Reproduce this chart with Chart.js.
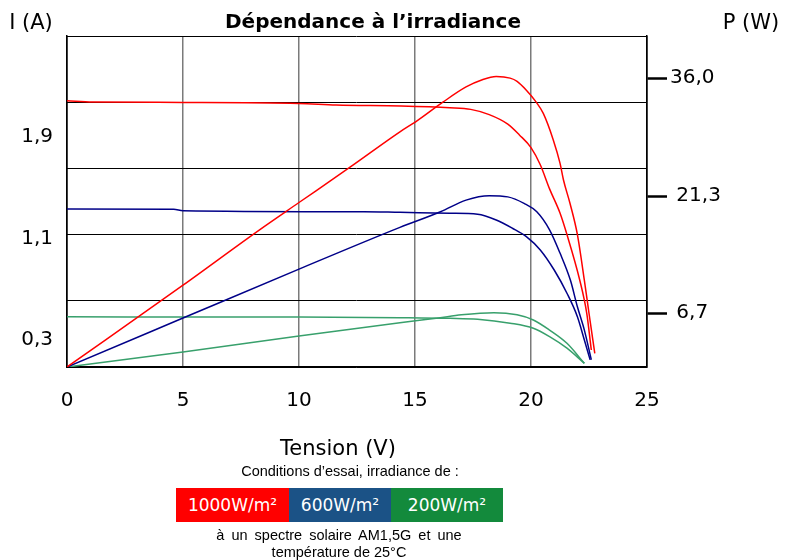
<!DOCTYPE html>
<html>
<head>
<meta charset="utf-8">
<script src="https://cdn.jsdelivr.net/npm/chart.js@4/dist/chart.umd.min.js"></script>
<style>
  body { margin: 0; background: #fff; }
  #wrap { position: relative; width: 790px; height: 560px; font-family: "DejaVu Sans", sans-serif; color: #000; }
  #chart { position: absolute; left: 0; top: 0; }
  .t { position: absolute; white-space: nowrap; line-height: 1; transform: translate(-50%, -50%); }
  .arial { font-family: "Liberation Sans", Arial, sans-serif; }
  .box { position: absolute; top: 488px; height: 34px; line-height: 34px; color: #fff; text-align: center; font-size: 17px; }
</style>
</head>
<body>
<div id="wrap">
  <canvas id="chart" width="790" height="560"></canvas>
  <div class="t" style="left:31px; top:22px; font-size:21px;">I (A)</div>
  <div class="t" style="left:373px; top:21px; font-size:20px; font-weight:bold;">Dépendance à l’irradiance</div>
  <div class="t" style="left:751px; top:22px; font-size:21px;">P (W)</div>
  <div class="t" style="left:338px; top:448px; font-size:21px;">Tension (V)</div>
  <div class="t arial" style="left:350px; top:471px; font-size:14.5px;">Conditions d’essai, irradiance de :</div>
  <div class="box" style="left:176px; width:113px; background:#ff0000;">1000W/m²</div>
  <div class="box" style="left:289px; width:102px; background:#1b5286;">600W/m²</div>
  <div class="box" style="left:391px; width:112px; background:#138a3c;">200W/m²</div>
  <div class="t arial" style="left:339px; top:535px; font-size:14.5px; word-spacing:3px;">à un spectre solaire AM1,5G et une</div>
  <div class="t arial" style="left:339px; top:552px; font-size:14.5px;">température de 25°C</div>
</div>
<script>
// tick labels
const xMin = 0, xMax = 25, xStep = 5;
const currentTicks = [0.3, 1.1, 1.9];
const powerTicks = [6.7, 21.3, 36.0];
const powerGrid = [0, 8.25, 16.5, 24.75, 33, 41.25];

// 1000 W/m2
const red_iv_v = [0, 1.1, 5, 10, 11.6, 14.4, 16.5, 17.4, 18.2, 19.0, 19.5, 20.0, 20.4, 20.8, 21.25, 21.55, 22.1, 22.4, 22.6];
const red_iv_i = [2.184, 2.174, 2.171, 2.163, 2.15, 2.143, 2.129, 2.116, 2.075, 2.0, 1.915, 1.815, 1.68, 1.49, 1.30, 1.13, 0.772, 0.513, 0.221];
const red_pv_v = [0, 5, 8.3, 10, 12.2, 14.35, 15.1, 16.2, 17.2, 17.9, 18.5, 19.1, 19.4, 19.8, 20.2, 20.53, 20.96, 21.25, 21.4, 21.68, 22.0, 22.3, 22.5, 22.75];
const red_pv_p = [0, 10.2, 17.1, 20.5, 24.9, 29.3, 30.7, 33.0, 34.9, 35.8, 36.2, 36.0, 35.6, 34.5, 33.1, 31.6, 28.3, 25.4, 23.3, 20.4, 16.5, 10.8, 6.7, 1.7];

// 600 W/m2
const blue_iv_v = [0, 4.6, 5, 12.8, 14.35, 16.5, 17.7, 18.5, 19.2, 19.8, 20.4, 21.0, 21.55, 22.0, 22.3, 22.55];
const blue_iv_i = [1.331, 1.33, 1.318, 1.31, 1.305, 1.298, 1.29, 1.245, 1.18, 1.114, 1.009, 0.851, 0.668, 0.483, 0.30, 0.143];
const blue_pv_v = [0, 5, 10, 14.35, 16.1, 17.2, 18.2, 19.0, 19.7, 20.25, 20.8, 21.25, 21.7, 22.0, 22.3, 22.6];
const blue_pv_p = [0, 6.1, 12.2, 17.4, 19.35, 20.8, 21.35, 21.2, 20.4, 19.35, 17.1, 14.2, 10.8, 7.5, 4.6, 0.9];

// 200 W/m2
const green_iv_v = [0, 5, 10, 14.35, 16.5, 17.7, 19.1, 20.1, 20.8, 21.55, 22.3];
const green_iv_i = [0.482, 0.481, 0.480, 0.475, 0.470, 0.463, 0.432, 0.392, 0.326, 0.235, 0.116];
const green_pv_v = [0, 5, 10, 14.35, 16, 17, 18.4, 19.4, 20.1, 20.8, 21.55, 22.3];
const green_pv_p = [0, 1.87, 3.86, 5.52, 6.1, 6.5, 6.77, 6.5, 5.86, 4.6, 2.95, 0.46];

const pts = (xs, ys) => xs.map((x, i) => ({ x: x, y: ys[i] }));
const comma = v => v.toFixed(1).replace('.', ',');

const line = (data, color, axis) => ({
  data: data,
  borderColor: color,
  borderWidth: 1.5,
  pointRadius: 0,
  fill: false,
  cubicInterpolationMode: 'monotone',
  yAxisID: axis
});

const tickFont = { family: 'DejaVu Sans', size: 20 };

new Chart(document.getElementById('chart'), {
  type: 'line',
  data: {
    datasets: [
      line(pts(red_iv_v, red_iv_i), '#ff0000', 'yI'),
      line(pts(red_pv_v, red_pv_p), '#ff0000', 'yP'),
      line(pts(blue_iv_v, blue_iv_i), '#000088', 'yI'),
      line(pts(blue_pv_v, blue_pv_p), '#000088', 'yP'),
      line(pts(green_iv_v, green_iv_i), '#38a06c', 'yI'),
      line(pts(green_pv_v, green_pv_p), '#38a06c', 'yP')
    ]
  },
  options: {
    responsive: false,
    animation: false,
    layout: { padding: { top: 36, bottom: 133, left: 0, right: 0 } },
    plugins: { legend: { display: false }, tooltip: { enabled: false } },
    scales: {
      x: {
        type: 'linear',
        min: xMin, max: xMax,
        afterFit: s => { s.height = 60; },
        ticks: { stepSize: xStep, font: tickFont, color: '#000', padding: 22, maxRotation: 0 },
        grid: {
          drawTicks: false,
          color: c => (c.tick.value === xMin || c.tick.value === xMax) ? '#000' : '#7a7a7a',
          lineWidth: 1.5
        },
        border: { color: '#000', width: 1.5 }
      },
      yI: {
        type: 'linear',
        position: 'left',
        min: 0.087, max: 2.694,
        afterFit: s => { s.width = 67; },
        afterBuildTicks: s => { s.ticks = currentTicks.map(v => ({ value: v })); },
        ticks: { font: tickFont, color: '#000', padding: 14, callback: v => comma(v) },
        grid: { drawOnChartArea: false, drawTicks: false },
        border: { color: '#000', width: 1.5 }
      },
      yP: {
        type: 'linear',
        position: 'right',
        min: 0, max: 41.25,
        afterFit: s => { s.width = 143; },
        afterBuildTicks: s => {
          s.ticks = powerGrid.concat(powerTicks).sort((a, b) => a - b).map(v => ({ value: v }));
        },
        ticks: {
          font: tickFont, color: '#000', padding: 3,
          callback: v => powerTicks.includes(v) ? (v > 30 ? comma(v) : ' ' + comma(v)) : ''
        },
        grid: {
          color: c => powerGrid.includes(c.tick.value) ? '#000' : 'rgba(0,0,0,0)',
          lineWidth: 1,
          tickLength: 20,
          tickWidth: 2.5,
          tickColor: c => powerTicks.includes(c.tick.value) ? '#000' : 'rgba(0,0,0,0)'
        },
        border: { color: '#000', width: 1.5 }
      }
    }
  }
});
</script>
</body>
</html>
